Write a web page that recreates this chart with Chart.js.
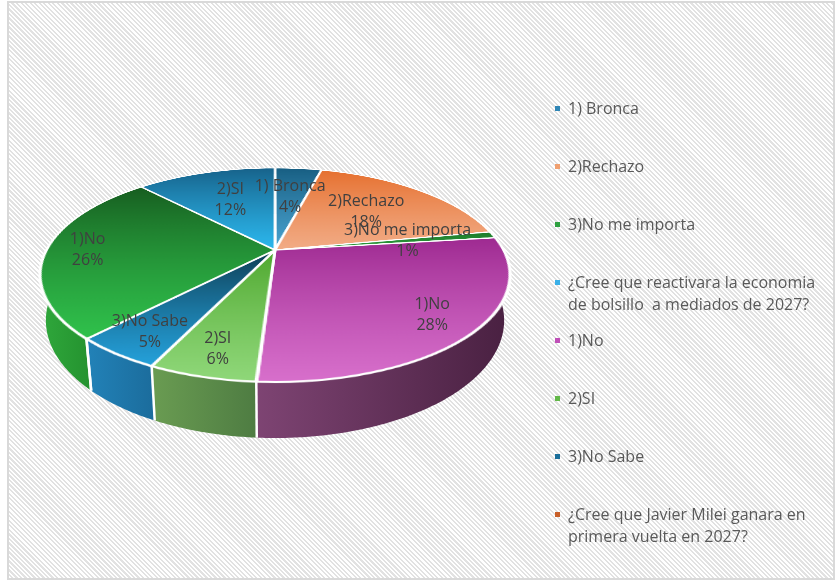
<!DOCTYPE html>
<html>
<head>
<meta charset="utf-8">
<script src="https://cdn.jsdelivr.net/npm/chart.js@4.4.1/dist/chart.umd.min.js"></script>
<style>
  html, body { margin: 0; padding: 0; background: #fff; }
  #wrap { position: relative; width: 839px; height: 583px; overflow: hidden; }
  #frame {
    position: absolute; left: 7px; top: 1px; width: 828px; height: 579px;
    box-sizing: border-box; border: 2px solid #d9d9d9;
    background: repeating-linear-gradient(45deg, #ffffff 0 1.6px, #e2e2e2 1.6px 3.2px);
  }
  #chart { position: absolute; left: 0; top: 0; }
  #legend {
    position: absolute; left: 553px; top: 97px; width: 280px;
    font-family: 'Open Sans', sans-serif; font-size: 16px; color: #595959;
  }
  .item { position: relative; box-sizing: border-box; height: 58px; padding-left: 15px; width: 275px; line-height: 22px; white-space: pre-wrap; }
  .item i { position: absolute; left: 2px; top: 9px; width: 5px; height: 5px; }
</style>
</head>
<body>
<div id="wrap">
  <div id="frame"></div>
  <canvas id="chart" width="839" height="583"></canvas>
  <div id="legend"></div>
</div>
<script>
const labels = [
  '1) Bronca',
  '2)Rechazo',
  '3)No me importa',
  '¿Cree que reactivara la economia de bolsillo  a mediados de 2027?',
  '1)No',
  '2)SI',
  '3)No Sabe',
  '¿Cree que Javier Milei ganara en primera vuelta en 2027?',
  '1)No',
  '2)SI'
];
const values = [4, 18, 1, 0, 28, 6, 5, 0, 26, 12];
const legendCount = 8;

// top face gradient (upper colour, lower colour)
const faceTop = ['#175e82', '#e6702f', '#1e7a2a', '#0f9ed5', '#9e2a91', '#4ea72e', '#0e3c52', '#8b441e', '#175d20', '#17628a'];
const faceBottom = ['#4aa3d0', '#f2ac86', '#2ea040', '#45c0f0', '#d870cc', '#90d87a', '#25a2dc', '#d07040', '#30c24c', '#2cb8ee'];
// side wall gradient (left, right)
const sideLeft = ['#1d6f98', '#c9622a', '#1b7a26', '#1684b3', '#7e4473', '#6a9c52', '#2282b8', '#8b441e', '#2ea53a', '#1a78a8'];
const sideRight = ['#155a7c', '#a8501f', '#15621e', '#106a90', '#4a2142', '#4e7c42', '#1b6c9c', '#6e3516', '#24922f', '#146289'];
const legendColors = ['#2f86b6', '#f0a070', '#2ea040', '#3ab0e8', '#c050b8', '#62b848', '#1a6e9a', '#c8602a'];

// perspective view of the pie (screen px)
const view = { cx: 275, cy: 250, rx: 228.5, ry: 101.2, persp: -0.2336, depth: 42.9, shrink: 0.975 };

function project(X, Y, bottom) {
  const w = 1 + view.persp * Y;
  const k = bottom ? view.shrink : 1;
  return {
    x: view.cx + k * view.rx * X / w,
    y: view.cy + view.ry * Y / w + (bottom ? view.depth / w : 0)
  };
}
function unprojectY(y) {
  const d = y - view.cy;
  return d / (view.ry - view.persp * d);
}

function faceGradient(context) {
  const chart = context.chart;
  const area = chart.chartArea;
  const i = context.dataIndex;
  if (!area) return faceTop[i];
  const cy = (area.top + area.bottom) / 2;
  const r = Math.min(area.width, area.height) / 2;
  const total = values.reduce((a, b) => a + b, 0);
  let before = 0;
  for (let j = 0; j < i; j++) before += values[j];
  const a0 = -Math.PI / 2 + before / total * 2 * Math.PI;
  const a1 = a0 + values[i] / total * 2 * Math.PI;
  const ys = [cy, cy + r * Math.sin(a0), cy + r * Math.sin(a1)];
  [-Math.PI / 2, Math.PI / 2, 3 * Math.PI / 2].forEach(a => {
    if (a > a0 && a < a1) ys.push(cy + r * Math.sin(a));
  });
  const y0 = Math.min(...ys), y1 = Math.max(...ys);
  const g = chart.ctx.createLinearGradient(0, y0, 0, Math.max(y1, y0 + 1));
  g.addColorStop(0, faceTop[i]);
  g.addColorStop(1, faceBottom[i]);
  return g;
}

// Chart.js draws the flat pie; this plugin turns it into the tilted 3D pie
const pie3d = {
  id: 'pie3d',
  afterDatasetsDraw(chart) {
    const canvas = chart.canvas, ctx = chart.ctx;
    const dpr = chart.currentDevicePixelRatio || 1;
    const arcs = chart.getDatasetMeta(0).data;
    const fx = arcs[0].x, fy = arcs[0].y, R = arcs[0].outerRadius;
    const m = 3;

    const flat = document.createElement('canvas');
    flat.width = canvas.width;
    flat.height = canvas.height;
    flat.getContext('2d').drawImage(canvas, 0, 0);

    ctx.save();
    ctx.setTransform(1, 0, 0, 1, 0, 0);
    ctx.clearRect(0, 0, canvas.width, canvas.height);
    ctx.restore();

    // side walls, front half only
    arcs.forEach((arc, i) => {
      const a1 = Math.max(arc.startAngle, 0);
      const a2 = Math.min(arc.endAngle, Math.PI);
      if (a2 <= a1) return;
      const n = Math.ceil((a2 - a1) / 0.01) + 1;
      const top = [], bot = [];
      for (let s = 0; s <= n; s++) {
        const a = a1 + (a2 - a1) * s / n;
        top.push(project(Math.cos(a), Math.sin(a), false));
        bot.push(project(Math.cos(a), Math.sin(a), true));
      }
      const xl = Math.min(top[n].x, bot[n].x), xr = Math.max(top[0].x, bot[0].x);
      const g = ctx.createLinearGradient(xl, 0, Math.max(xr, xl + 1), 0);
      g.addColorStop(0, sideLeft[i]);
      g.addColorStop(1, sideRight[i]);
      ctx.beginPath();
      top.forEach((p, s) => s ? ctx.lineTo(p.x, p.y) : ctx.moveTo(p.x, p.y));
      for (let s = n; s >= 0; s--) ctx.lineTo(bot[s].x, bot[s].y);
      ctx.closePath();
      ctx.fillStyle = g;
      ctx.fill();
    });
    ctx.strokeStyle = '#ffffff';
    ctx.lineWidth = 2.5;
    arcs.forEach(arc => {
      const a = arc.endAngle;
      if (a > 0 && a < Math.PI) {
        const p = project(Math.cos(a), Math.sin(a), false);
        const q = project(Math.cos(a), Math.sin(a), true);
        ctx.beginPath();
        ctx.moveTo(p.x, p.y);
        ctx.lineTo(q.x, q.y);
        ctx.stroke();
      }
    });

    // top face: flat pie re-drawn row by row in perspective
    ctx.save();
    ctx.setTransform(1, 0, 0, 1, 0, 0);
    const e = (R + m) / R;
    const yFirst = project(0, -e, false).y, yLast = project(0, e, false).y;
    for (let row = Math.floor(yFirst * dpr); row < Math.ceil(yLast * dpr); row++) {
      const Y0 = unprojectY(row / dpr), Y1 = unprojectY((row + 1) / dpr);
      const Ym = (Y0 + Y1) / 2;
      const w = 1 + view.persp * Ym;
      const s = view.rx / (w * R);
      const sy = (fy + Y0 * R) * dpr;
      const sh = Math.max((Y1 - Y0) * R * dpr, 0.5);
      const sx = (fx - R - m) * dpr, sw = (2 * R + 2 * m) * dpr;
      const dx = (view.cx - (R + m) * s) * dpr, dw = (2 * R + 2 * m) * s * dpr;
      ctx.drawImage(flat, sx, sy, sw, sh, dx, row, dw, 1);
    }
    ctx.restore();

    // data labels
    const total = values.reduce((a, b) => a + b, 0);
    ctx.save();
    ctx.fillStyle = '#404040';
    ctx.font = '16px "Open Sans", sans-serif';
    ctx.textAlign = 'center';
    ctx.textBaseline = 'middle';
    arcs.forEach((arc, i) => {
      if (!values[i]) return;
      const mid = (arc.startAngle + arc.endAngle) / 2;
      const f = Math.sin(mid) < -0.05 ? 0.6 : 0.82;
      const p = project(f * Math.cos(mid), f * Math.sin(mid), false);
      ctx.fillText(labels[i], p.x, p.y - 10.5);
      ctx.fillText(Math.round(values[i] / total * 100) + '%', p.x, p.y + 10.5);
    });
    ctx.restore();
  }
};

const chart = new Chart(document.getElementById('chart'), {
  type: 'pie',
  data: {
    labels: labels,
    datasets: [{
      data: values,
      backgroundColor: faceGradient,
      borderColor: '#ffffff',
      borderWidth: 3
    }]
  },
  options: {
    responsive: false,
    animation: false,
    events: [],
    layout: { padding: { left: 38, right: 327, top: 35, bottom: 74 } },
    plugins: {
      legend: { display: false },
      tooltip: { enabled: false }
    }
  },
  plugins: [pie3d]
});

const legendEl = document.getElementById('legend');
chart.data.labels.slice(0, legendCount).forEach((text, i) => {
  const row = document.createElement('div');
  row.className = 'item';
  const box = document.createElement('i');
  box.style.background = legendColors[i];
  row.appendChild(box);
  row.appendChild(document.createTextNode(text));
  legendEl.appendChild(row);
});
</script>
</body>
</html>
